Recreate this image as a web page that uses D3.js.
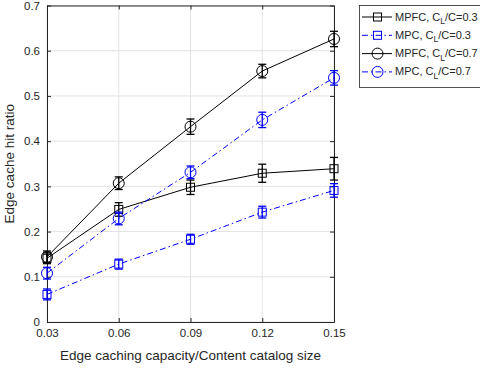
<!DOCTYPE html>
<html>
<head>
<meta charset="utf-8">
<script src="https://cdn.jsdelivr.net/npm/d3@7"></script>
<style>
  html, body { margin: 0; padding: 0; background: #fff; }
  svg { display: block; }
  text { font-family: "Liberation Sans", Arial, Helvetica, sans-serif; fill: #262626; }
</style>
</head>
<body>
<svg id="chart" width="480" height="368"></svg>
<script>
// Edge caching capacity relative to catalog size
const capacities = [0.03, 0.06, 0.09, 0.12, 0.15];
const xTicks = [0.03, 0.06, 0.09, 0.12, 0.15];
const yTicks = [0, 0.1, 0.2, 0.3, 0.4, 0.5, 0.6, 0.7];

// Hit ratios and error half-widths per scheme
const mpfc03 = [0.141, 0.249, 0.298, 0.329, 0.339];
const mpfc03Err = [0.012, 0.015, 0.016, 0.020, 0.025];
const mpc03 = [0.061, 0.128, 0.183, 0.243, 0.291];
const mpc03Err = [0.012, 0.011, 0.011, 0.013, 0.015];
const mpfc07 = [0.144, 0.307, 0.432, 0.555, 0.626];
const mpfc07Err = [0.013, 0.014, 0.017, 0.015, 0.017];
const mpc07 = [0.108, 0.229, 0.331, 0.447, 0.540];
const mpc07Err = [0.013, 0.014, 0.014, 0.017, 0.016];

const seriesNames = ["MPFC", "MPC", "MPFC", "MPC"];
const seriesRatios = ["0.3", "0.3", "0.7", "0.7"];

const series = [
  { name: seriesNames[0], ratio: seriesRatios[0], values: mpfc03, err: mpfc03Err, color: "#000000", dash: null, marker: "square" },
  { name: seriesNames[1], ratio: seriesRatios[1], values: mpc03, err: mpc03Err, color: "#0000ff", dash: "6,3,1.5,3", marker: "square" },
  { name: seriesNames[2], ratio: seriesRatios[2], values: mpfc07, err: mpfc07Err, color: "#000000", dash: null, marker: "circle" },
  { name: seriesNames[3], ratio: seriesRatios[3], values: mpc07, err: mpc07Err, color: "#0000ff", dash: "6,3,1.5,3", marker: "circle" }
];

const svg = d3.select("#chart");
const margin = { left: 47, right: 146, top: 5.5, bottom: 46 };
const W = 480, H = 368;
const x = d3.scaleLinear().domain([0.03, 0.15]).range([margin.left, W - margin.right]);
const y = d3.scaleLinear().domain([0, 0.7]).range([H - margin.bottom, margin.top]);
const x0 = x.range()[0], x1 = x.range()[1], y0 = y.range()[0], y1 = y.range()[1];

// Grid
const grid = svg.append("g").attr("stroke", "#e3e3e3").attr("stroke-width", 1);
xTicks.forEach(t => grid.append("line").attr("x1", x(t)).attr("x2", x(t)).attr("y1", y0).attr("y2", y1));
yTicks.forEach(t => grid.append("line").attr("x1", x0).attr("x2", x1).attr("y1", y(t)).attr("y2", y(t)));

// Axes
const xAxis = d3.axisBottom(x).tickValues(xTicks).tickFormat(d3.format(".2f")).tickSizeInner(-4).tickSizeOuter(0).tickPadding(7);
const yAxis = d3.axisLeft(y).tickValues(yTicks).tickFormat(d => d === 0 ? "0" : d3.format(".1f")(d)).tickSizeInner(-4).tickSizeOuter(0).tickPadding(7);
const gx = svg.append("g").attr("transform", `translate(0,${y0})`).call(xAxis);
const gy = svg.append("g").attr("transform", `translate(${x0},0)`).call(yAxis);
const gxTop = svg.append("g").attr("transform", `translate(0,${y1})`).call(d3.axisTop(x).tickValues(xTicks).tickFormat("").tickSizeInner(-4).tickSizeOuter(0));
const gyRight = svg.append("g").attr("transform", `translate(${x1},0)`).call(d3.axisRight(y).tickValues(yTicks).tickFormat("").tickSizeInner(-4).tickSizeOuter(0));
[gx, gy, gxTop, gyRight].forEach(g => {
  g.selectAll("path").attr("stroke", "#262626").attr("stroke-width", 1);
  g.selectAll("line").attr("stroke", "#262626");
  g.selectAll("text").attr("font-size", 11.5).attr("fill", "#262626");
});

// Axis labels
svg.append("text").attr("x", (x0 + x1) / 2).attr("y", 360).attr("text-anchor", "middle").attr("font-size", 13.5)
  .text("Edge caching capacity/Content catalog size");
svg.append("text").attr("transform", `translate(14,${(y0 + y1) / 2}) rotate(-90)`).attr("text-anchor", "middle").attr("font-size", 13.5)
  .text("Edge cache hit ratio");

function drawMarker(g, type, cx, cy, color) {
  if (type === "square") {
    g.append("rect").attr("x", cx - 4).attr("y", cy - 4).attr("width", 8).attr("height", 8)
      .attr("fill", "none").attr("stroke", color).attr("stroke-width", 1);
  } else {
    g.append("circle").attr("cx", cx).attr("cy", cy).attr("r", 5.5)
      .attr("fill", "none").attr("stroke", color).attr("stroke-width", 1);
  }
}

const line = d3.line().x((d, i) => x(capacities[i])).y(d => y(d));

series.forEach(s => {
  const g = svg.append("g");
  g.append("path").datum(s.values).attr("d", line).attr("fill", "none")
    .attr("stroke", s.color).attr("stroke-width", 1).attr("stroke-dasharray", s.dash);
  s.values.forEach((v, i) => {
    const cx = x(capacities[i]);
    const top = y(v + s.err[i]), bot = y(v - s.err[i]);
    g.append("line").attr("x1", cx).attr("x2", cx).attr("y1", top).attr("y2", bot).attr("stroke", s.color).attr("stroke-width", 1.3);
    g.append("line").attr("x1", cx - 4).attr("x2", cx + 4).attr("y1", top).attr("y2", top).attr("stroke", s.color).attr("stroke-width", 1.3);
    g.append("line").attr("x1", cx - 4).attr("x2", cx + 4).attr("y1", bot).attr("y2", bot).attr("stroke", s.color).attr("stroke-width", 1.3);
    drawMarker(g, s.marker, cx, y(v), s.color);
  });
});

// Legend
const lg = svg.append("g");
lg.append("rect").attr("x", 359.5).attr("y", 5.5).attr("width", 121).attr("height", 82)
  .attr("fill", "#fff").attr("stroke", "#262626").attr("stroke-width", 0.8);
series.forEach((s, i) => {
  const ly = 17 + i * 18.3;
  lg.append("line").attr("x1", 362).attr("x2", 392).attr("y1", ly).attr("y2", ly)
    .attr("stroke", s.color).attr("stroke-width", 1).attr("stroke-dasharray", s.dash);
  drawMarker(lg, s.marker, 377.5, ly, s.color);
  const t = lg.append("text").attr("x", 395).attr("y", ly + 3.5).attr("font-size", 11);
  t.append("tspan").text(`${s.name}, C`);
  t.append("tspan").attr("font-size", 8.5).attr("dy", 3.5).text("L");
  t.append("tspan").attr("dy", -3.5).text(`/C=${s.ratio}`);
});
</script>
</body>
</html>
